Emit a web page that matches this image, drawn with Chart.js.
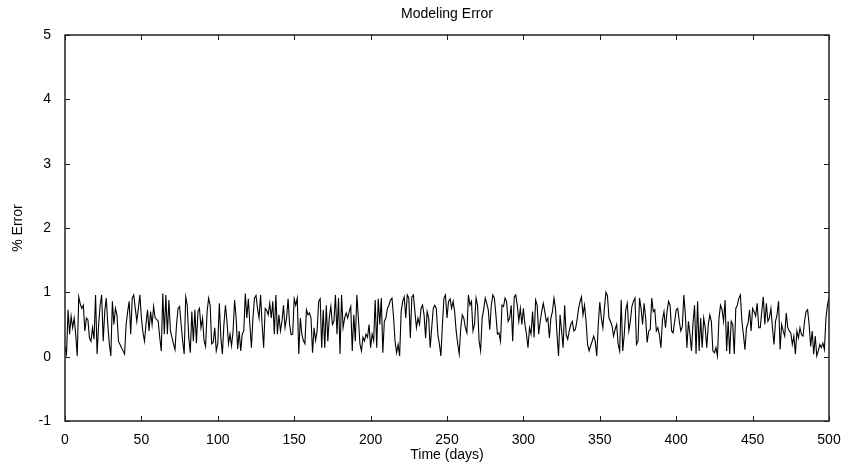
<!DOCTYPE html>
<html>
<head>
<meta charset="utf-8">
<script src="https://cdn.jsdelivr.net/npm/chart.js@4.4.1/dist/chart.umd.min.js"></script>
<style>
  html, body { margin: 0; padding: 0; background: #fff; }
  #wrap { width: 846px; height: 466px; }
</style>
</head>
<body>
<div id="wrap"><canvas id="chart" width="846" height="466"></canvas></div>
<script>
// % error per day in 50-day blocks
const days0to49 = [0.16,0.04,0.73,0.35,0.63,0.45,0.6,0.35,0.01,0.93, 0.82,0.75,0.8,0.4,0.6,0.57,0.29,0.24,0.45,0.27,
  0.96,0.04,0.5,0.8,0.96,0.24,0.7,0.91,0.5,0.2, 0.01,0.86,0.5,0.75,0.65,0.24,0.19,0.14,0.09,0.04,
  0.5,0.7,0.86,0.35,0.91,0.96,0.75,0.55,0.75,0.96]
const days50to99 = [0.6,0.38,0.24,0.5,0.73,0.4,0.7,0.5,0.78,0.6, 0.58,0.55,0.3,0.09,0.98,0.35,0.96,0.35,0.88,0.4,
  0.3,0.2,0.11,0.5,0.75,0.78,0.5,0.25,0.04,0.93, 0.8,0.3,0.06,0.7,0.24,0.73,0.21,0.7,0.75,0.45,
  0.6,0.25,0.16,0.7,0.91,0.8,0.2,0.22,0.45,0.09]
const days100to149 = [0.2,0.83,0.3,0.04,0.5,0.8,0.55,0.2,0.35,0.17, 0.4,0.88,0.6,0.12,0.4,0.09,0.35,0.4,0.98,0.6,
  0.9,0.5,0.14,0.6,0.91,0.95,0.75,0.6,0.96,0.5, 0.14,0.75,0.72,0.65,0.83,0.6,0.86,0.35,0.96,0.35,
  0.65,0.4,0.55,0.8,0.45,0.6,0.9,0.5,0.34,0.35]
const days150to199 = [0.9,0.8,0.91,0.04,0.6,0.35,0.25,0.2,0.73,0.65, 0.68,0.6,0.06,0.45,0.25,0.4,0.86,0.9,0.14,0.73,
  0.14,0.8,0.24,0.62,0.78,0.5,0.55,0.96,0.35,0.91, 0.04,0.96,0.45,0.6,0.68,0.6,0.7,0.78,0.09,0.65,
  0.24,0.96,0.6,0.2,0.09,0.3,0.24,0.35,0.3,0.5]
const days200to249 = [0.14,0.35,0.25,0.88,0.14,0.9,0.5,0.91,0.06,0.55, 0.6,0.75,0.8,0.88,0.91,0.62,0.24,0.06,0.19,0.01,
  0.7,0.86,0.93,0.6,0.96,0.91,0.29,0.93,0.96,0.7, 0.45,0.6,0.5,0.75,0.8,0.65,0.29,0.7,0.6,0.14,
  0.45,0.75,0.8,0.75,0.35,0.2,0.01,0.5,0.91,0.96]
const days250to299 = [0.6,0.86,0.9,0.75,0.86,0.7,0.4,0.2,0.04,0.45, 0.65,0.6,0.45,0.37,0.96,0.8,0.86,0.4,0.5,0.91,
  0.8,0.24,0.09,0.6,0.73,0.91,0.83,0.73,0.42,0.8, 0.96,0.91,0.65,0.35,0.37,0.24,0.8,0.78,0.91,0.86,
  0.55,0.6,0.8,0.24,0.93,0.96,0.8,0.55,0.75,0.5]
const days300to349 = [0.75,0.5,0.35,0.14,0.45,0.35,0.7,0.3,0.88,0.8, 0.35,0.55,0.7,0.83,0.7,0.55,0.6,0.29,0.6,0.7,
  0.91,0.75,0.35,0.01,0.65,0.4,0.14,0.8,0.34,0.27, 0.4,0.5,0.55,0.4,0.42,0.55,0.73,0.85,0.93,0.65,
  0.8,0.55,0.19,0.09,0.17,0.24,0.32,0.24,0.01,0.5]
const days350to399 = [0.85,0.6,0.45,0.75,1.0,0.95,0.6,0.55,0.48,0.32, 0.42,0.5,0.2,0.09,0.88,0.09,0.34,0.73,0.83,0.4,
  0.55,0.78,0.86,0.91,0.19,0.24,0.91,0.75,0.5,0.83, 0.6,0.22,0.4,0.42,0.91,0.7,0.73,0.4,0.45,0.34,
  0.14,0.57,0.7,0.45,0.7,0.86,0.8,0.4,0.37,0.55]
const days400to449 = [0.73,0.75,0.55,0.4,0.47,0.96,0.65,0.14,0.55,0.35, 0.09,0.52,0.8,0.04,0.86,0.09,0.6,0.14,0.6,0.45,
  0.14,0.5,0.65,0.55,0.09,0.06,0.14,0.01,0.6,0.8, 0.73,0.55,0.88,0.09,0.55,0.04,0.55,0.5,0.04,0.75,
  0.8,0.91,0.96,0.55,0.34,0.11,0.45,0.52,0.73,0.4]
const days450to500 = [0.75,0.7,0.63,0.83,0.45,0.45,0.7,0.93,0.5,0.83, 0.55,0.6,0.75,0.45,0.19,0.55,0.65,0.86,0.11,0.5,
  0.4,0.32,0.68,0.45,0.4,0.37,0.19,0.32,0.04,0.4, 0.29,0.45,0.34,0.32,0.55,0.7,0.73,0.5,0.16,0.4,
  0.04,0.32,0.01,0.09,0.19,0.14,0.21,0.11,0.6,0.8, 0.93]

const xTicks = [0, 50, 100, 150, 200, 250, 300, 350, 400, 450, 500]
const yTicks = [-1, 0, 1, 2, 3, 4, 5]

const errorPct = [].concat(days0to49, days50to99, days100to149, days150to199, days200to249,
  days250to299, days300to349, days350to399, days400to449, days450to500)

const FONT = '"Liberation Sans", Arial, Helvetica, sans-serif'
const SIZE = 14

// MATLAB-style box with inward ticks on all four sides
const boxTicks = {
  id: "boxTicks",
  afterDraw(chart) {
    const { ctx, chartArea: a, scales: { x, y } } = chart
    const len = 5
    ctx.save()
    ctx.strokeStyle = "#222"
    ctx.lineWidth = 1
    ctx.beginPath()
    xTicks.forEach(v => {
      const px = Math.round(x.getPixelForValue(v)) + 0.5
      ctx.moveTo(px, a.bottom); ctx.lineTo(px, a.bottom - len)
      ctx.moveTo(px, a.top); ctx.lineTo(px, a.top + len)
    })
    yTicks.forEach(v => {
      const py = Math.round(y.getPixelForValue(v)) + 0.5
      ctx.moveTo(a.left, py); ctx.lineTo(a.left + len, py)
      ctx.moveTo(a.right, py); ctx.lineTo(a.right - len, py)
    })
    ctx.stroke()
    ctx.lineWidth = 1.5
    ctx.strokeRect(a.left, a.top, a.right - a.left, a.bottom - a.top)
    ctx.restore()
  }
}

new Chart(document.getElementById("chart"), {
  type: "line",
  data: {
    datasets: [{
      data: errorPct.map((v, i) => ({ x: i, y: v })),
      borderColor: "#000",
      borderWidth: 1.1,
      pointRadius: 0,
      tension: 0,
      fill: false
    }]
  },
  options: {
    responsive: false,
    animation: false,
    layout: { padding: { left: 0, right: 17, top: 0, bottom: 0 } },
    plugins: {
      legend: { display: false },
      tooltip: { enabled: false },
      title: {
        display: true,
        text: "Modeling Error",
        fullSize: false,
        color: "#000",
        font: { family: FONT, size: SIZE, weight: "normal" },
        padding: { top: 6, bottom: 12.2 }
      }
    },
    scales: {
      x: {
        type: "linear",
        min: 0, max: 500,
        afterFit: s => { s.height = 45 },
        afterBuildTicks: s => { s.ticks = xTicks.map(v => ({ value: v })) },
        grid: { display: false },
        border: { display: false },
        ticks: { color: "#000", padding: 3, font: { family: FONT, size: SIZE }, maxRotation: 0 },
        title: { display: true, text: "Time (days)", color: "#000", font: { family: FONT, size: SIZE }, padding: { bottom: 2.6, top: 0 } }
      },
      y: {
        min: -1, max: 5,
        afterFit: s => { s.width = 65 },
        afterBuildTicks: s => { s.ticks = yTicks.map(v => ({ value: v })) },
        grid: { display: false },
        border: { display: false },
        ticks: { color: "#000", padding: 6, font: { family: FONT, size: SIZE } },
        title: { display: true, text: "% Error", color: "#000", font: { family: FONT, size: SIZE }, padding: { top: 9.6, bottom: 0 } }
      }
    }
  },
  plugins: [boxTicks]
})
</script>
</body>
</html>
